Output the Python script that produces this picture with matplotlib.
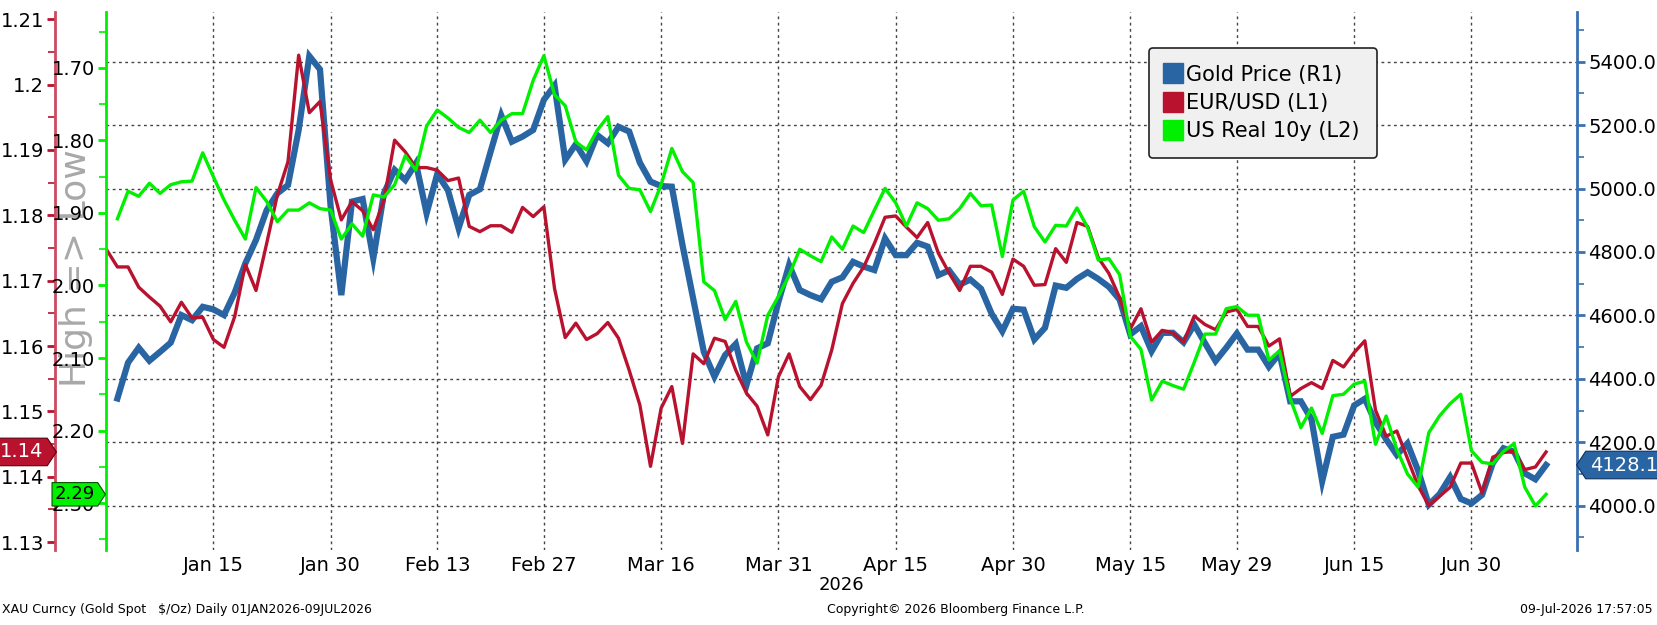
import numpy as np
import pandas as pd
import matplotlib
matplotlib.use('Agg')
import matplotlib.pyplot as plt
from matplotlib.path import Path
from matplotlib.lines import Line2D
from matplotlib.ticker import MultipleLocator, FixedLocator, FixedFormatter

# weekdays 01-Jan-2026 .. 09-Jul-2026 (136 points)
dates = pd.bdate_range('2026-01-01', '2026-07-09')

# Gold spot $/oz (R1)
gold = [np.nan, 4338, 4451, 4498, 4457, 4485, 4514, 4601, 4585, 4627,
        4619, 4601, 4672, 4764, 4838, 4932, 4985, 5011, 5185, 5418,
        5376, 4943, 4664, 4959, 4967, 4780, 4985, 5059, 5027, 5080,
        4922, 5046, 4995, 4875, 4980, 4998, 5116, 5231, 5148, 5164,
        5185, 5280, 5325, 5091, 5140, 5086, 5169, 5143, 5195, 5180,
        5082, 5022, 5008, 5006, 4822, 4654, 4485, 4407, 4475, 4510,
        4380, 4496, 4512, 4643, 4759, 4680, 4664, 4651, 4706, 4720,
        4769, 4754, 4743, 4843, 4790, 4790, 4829, 4817, 4727, 4742,
        4697, 4713, 4684, 4605, 4550, 4621, 4618, 4524, 4561, 4694,
        4687, 4715, 4736, 4715, 4690, 4650, 4540, 4566, 4487, 4545,
        4545, 4515, 4571, 4513, 4456, 4498, 4543, 4492, 4492, 4438,
        4480, 4329, 4329, 4272, 4077, 4217, 4224, 4316, 4337, 4263,
        4209, 4160, 4196, 4110, 4003, 4036, 4090, 4021, 4007, 4034,
        4134, 4181, 4170, 4102, 4083, 4128.1]

# EUR/USD (L1)
eurusd = [1.1747, 1.1721, 1.1721, 1.1690, 1.1675, 1.1661, 1.1637, 1.1667, 1.1643, 1.1644,
          1.1610, 1.1598, 1.1645, 1.1725, 1.1685, 1.1757, 1.1831, 1.1882, 1.2045, 1.1957,
          1.1974, 1.1854, 1.1793, 1.1821, 1.1807, 1.1778, 1.1823, 1.1915, 1.1897, 1.1873,
          1.1873, 1.1869, 1.1853, 1.1857, 1.1783, 1.1775, 1.1784, 1.1784, 1.1774, 1.1812,
          1.1798, 1.1813, 1.1688, 1.1613, 1.1635, 1.1610, 1.1619, 1.1636, 1.1612, 1.1563,
          1.1510, 1.1416, 1.1505, 1.1538, 1.1451, 1.1588, 1.1573, 1.1612, 1.1607, 1.1563,
          1.1528, 1.1508, 1.1464, 1.1553, 1.1588, 1.1538, 1.1518, 1.1540, 1.1594, 1.1665,
          1.1696, 1.1721, 1.1757, 1.1797, 1.1799, 1.1782, 1.1766, 1.1789, 1.1742, 1.1712,
          1.1685, 1.1722, 1.1722, 1.1713, 1.1679, 1.1733, 1.1722, 1.1693, 1.1694, 1.1749,
          1.1728, 1.1789, 1.1783, 1.1735, 1.1711, 1.1674, 1.1626, 1.1657, 1.1606, 1.1624,
          1.1620, 1.1606, 1.1646, 1.1633, 1.1625, 1.1652, 1.1656, 1.1630, 1.1630, 1.1600,
          1.1611, 1.1523, 1.1535, 1.1544, 1.1535, 1.1578, 1.1568, 1.1590, 1.1608, 1.1502,
          1.1462, 1.1470, 1.1428, 1.1386, 1.1356, 1.1370, 1.1384, 1.1421, 1.1421, 1.1375,
          1.1430, 1.1437, 1.1439, 1.1411, 1.1415, 1.1438]

# US real 10y yield (L2, inverted)
real10y = [np.nan, 1.908, 1.870, 1.877, 1.859, 1.873, 1.861, 1.857, 1.856, 1.817,
           1.850, 1.882, 1.910, 1.936, 1.865, 1.884, 1.912, 1.896, 1.896, 1.886,
           1.894, 1.896, 1.936, 1.915, 1.932, 1.875, 1.878, 1.861, 1.821, 1.841,
           1.780, 1.758, 1.769, 1.782, 1.789, 1.772, 1.789, 1.772, 1.763, 1.763,
           1.717, 1.683, 1.737, 1.752, 1.802, 1.813, 1.786, 1.767, 1.848, 1.866,
           1.868, 1.898, 1.861, 1.811, 1.843, 1.858, 1.995, 2.007, 2.047, 2.022,
           2.078, 2.107, 2.041, 2.015, 1.986, 1.950, 1.959, 1.967, 1.933, 1.950,
           1.918, 1.927, 1.896, 1.866, 1.886, 1.918, 1.886, 1.894, 1.910, 1.908,
           1.894, 1.873, 1.890, 1.889, 1.960, 1.882, 1.870, 1.919, 1.940, 1.917,
           1.918, 1.893, 1.920, 1.965, 1.963, 1.985, 2.070, 2.088, 2.158, 2.132,
           2.138, 2.143, 2.106, 2.067, 2.067, 2.032, 2.029, 2.041, 2.041, 2.103,
           2.090, 2.156, 2.196, 2.169, 2.204, 2.152, 2.150, 2.136, 2.132, 2.219,
           2.180, 2.226, 2.260, 2.278, 2.203, 2.180, 2.163, 2.150, 2.228, 2.244,
           2.246, 2.229, 2.218, 2.278, 2.304, 2.288]

tick_dates = ['2026-01-15', '2026-01-30', '2026-02-13', '2026-02-27', '2026-03-16', '2026-03-31',
              '2026-04-15', '2026-04-30', '2026-05-15', '2026-05-29', '2026-06-15', '2026-06-30']
tick_labels = ['Jan 15', 'Jan 30', 'Feb 13', 'Feb 27', 'Mar 16', 'Mar 31',
               'Apr 15', 'Apr 30', 'May 15', 'May 29', 'Jun 15', 'Jun 30']

gold_ticks = [4000, 4200, 4400, 4600, 4800, 5000, 5200, 5400]
eur_ticks = [1.13, 1.14, 1.15, 1.16, 1.17, 1.18, 1.19, 1.2, 1.21]
real_ticks = [1.70, 1.80, 1.90, 2.00, 2.10, 2.20, 2.30]

C_GOLD = '#2865a2'
C_EUR = '#b8122f'
C_REAL = '#00f000'

x = np.arange(len(dates))
tick_pos = [dates.get_loc(pd.Timestamp(d)) for d in tick_dates]


def tag_style(direction, padf=0.22):
    # arrow shaped value tag like the terminal ones
    def style(x0, y0, width, height, mutation_size):
        pad = padf * mutation_size
        x0, y0 = x0 - pad, y0 - pad
        x1, y1 = x0 + width + 2 * pad, y0 + height + 2 * pad
        ym = (y0 + y1) / 2
        tip = 0.33 * (y1 - y0)
        if direction == 'right':
            v = [(x0, y0), (x1, y0), (x1 + tip, ym), (x1, y1), (x0, y1), (x0, y0)]
        else:
            v = [(x0, y0), (x1, y0), (x1, y1), (x0, y1), (x0 - tip, ym), (x0, y0)]
        return Path(v, closed=True)
    return style


fig = plt.figure(figsize=(16.57, 6.25), dpi=100)
ax = fig.add_axes([106 / 1657, 75 / 625, 1471 / 1657, 538 / 625])
ax_eur = ax.twinx()
ax_real = ax.twinx()

# gold on host (right axis)
ax.plot(x, gold, color=C_GOLD, lw=4.5, solid_joinstyle='miter')
ax.yaxis.tick_right()
ax.set_ylim(3860, 5557)
ax.set_xlim(-0.07, 137.9)
ax.yaxis.set_major_locator(FixedLocator(gold_ticks))
ax.yaxis.set_major_formatter(FixedFormatter([f'{v:.1f}' for v in gold_ticks]))
ax.yaxis.set_minor_locator(MultipleLocator(100))
ax.set_xticks(tick_pos)
ax.set_xticklabels(tick_labels)
ax.grid(True, which='major', color='#444444', linestyle=(0, (2, 2.5)), linewidth=1)
for s in ['top', 'bottom', 'left']:
    ax.spines[s].set_visible(False)
ax.spines['right'].set_color('#3a70b0')
ax.spines['right'].set_linewidth(2)
ax.tick_params(axis='x', length=0, pad=4, labelsize=14)
ax.tick_params(axis='y', which='major', color='#3a70b0', length=6, width=2, pad=2, labelsize=14)
ax.tick_params(axis='y', which='minor', color='#3a70b0', length=5, width=1.2)
ax.set_xlabel('2026', fontsize=13, labelpad=1)

# EUR/USD on outer left axis
ax_eur.plot(x, eurusd, color=C_EUR, lw=2.4)
ax_eur.yaxis.tick_left()
ax_eur.set_ylim(1.1288, 1.2111)
ax_eur.yaxis.set_major_locator(FixedLocator(eur_ticks))
ax_eur.yaxis.set_major_formatter(FixedFormatter([f'{v:g}' for v in eur_ticks]))
ax_eur.yaxis.set_minor_locator(MultipleLocator(0.005))
for s in ['top', 'bottom', 'right']:
    ax_eur.spines[s].set_visible(False)
ax_eur.spines['left'].set_position(('outward', 36.7))
ax_eur.spines['left'].set_color('#cc4a62')
ax_eur.spines['left'].set_linewidth(2)
ax_eur.tick_params(axis='y', which='major', color=C_EUR, length=6, width=2, pad=2, labelsize=14)
ax_eur.tick_params(axis='y', which='minor', color=C_EUR, length=5, width=1.2)

# US real 10y on inner left axis, inverted
ax_real.plot(x, real10y, color=C_REAL, lw=2.4)
ax_real.yaxis.tick_left()
ax_real.set_ylim(2.3648, 1.6228)
ax_real.yaxis.set_major_locator(FixedLocator(real_ticks))
ax_real.yaxis.set_major_formatter(FixedFormatter([f'{v:.2f}' for v in real_ticks]))
ax_real.yaxis.set_minor_locator(MultipleLocator(0.05))
for s in ['top', 'bottom', 'right']:
    ax_real.spines[s].set_visible(False)
ax_real.spines['left'].set_color(C_REAL)
ax_real.spines['left'].set_linewidth(2)
ax_real.tick_params(axis='y', which='major', color=C_REAL, length=6, width=2, pad=2, labelsize=14)
ax_real.tick_params(axis='y', which='minor', color=C_REAL, length=5, width=1.2)

# last value tags
ax_eur.annotate(f'{eurusd[-1]:.2f}', xy=(43, eurusd[-1]), xycoords=('figure pixels', 'data'),
                ha='right', va='center', fontsize=14, color='white', annotation_clip=False, zorder=10,
                bbox=dict(boxstyle=tag_style('right'), fc=C_EUR, ec='#5a0010', lw=0.8))
ax_real.annotate(f'{real10y[-1]:.2f}', xy=(95, real10y[-1]), xycoords=('figure pixels', 'data'),
                 ha='right', va='center', fontsize=13, color='black', annotation_clip=False, zorder=10,
                 bbox=dict(boxstyle=tag_style('right', 0.15), fc=C_REAL, ec='#005000', lw=0.8))
ax_real.annotate(f'{gold[-1]:.1f}', xy=(1590, 0), xycoords=('figure pixels', ax.transData),
                 xytext=(1590, gold[-1]), textcoords=('figure pixels', ax.transData),
                 ha='left', va='center', fontsize=14, color='white', annotation_clip=False, zorder=10,
                 bbox=dict(boxstyle=tag_style('left'), fc=C_GOLD, ec='#10305a', lw=0.8))

# legend
handles = [Line2D([], [], color=c, marker='s', linestyle='none', markersize=14)
           for c in (C_GOLD, C_EUR, C_REAL)]
leg = ax_real.legend(handles, ['Gold Price (R1)', 'EUR/USD (L1)', 'US Real 10y (L2)'],
                     loc='upper left', bbox_to_anchor=(1149 / 1657, 1 - 48 / 625),
                     bbox_transform=fig.transFigure, borderaxespad=0, fontsize=15,
                     handlelength=0.7, handletextpad=0.3, labelspacing=0.4, borderpad=0.8,
                     fancybox=True, framealpha=1, facecolor='#f0f0f0', edgecolor='#222222')
leg.get_frame().set_linewidth(1.2)

fig.text(76 / 1657, 1 - 268 / 625, 'High => Low', rotation=90, ha='center', va='center',
         fontsize=26, color='#a8a8a8', zorder=-1)

fig.text(2 / 1657, 1 - 610 / 625, 'XAU Curncy (Gold Spot   $/Oz) Daily 01JAN2026-09JUL2026',
         fontsize=9, va='center', ha='left')
fig.text(956 / 1657, 1 - 610 / 625, 'Copyright© 2026 Bloomberg Finance L.P.',
         fontsize=9, va='center', ha='center')
fig.text(1653 / 1657, 1 - 610 / 625, '09-Jul-2026 17:57:05',
         fontsize=9, va='center', ha='right')

fig.savefig('out.png', dpi=100)
